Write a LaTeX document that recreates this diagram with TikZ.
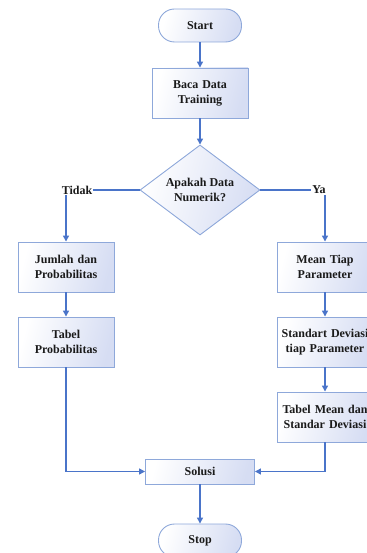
\documentclass[tikz,border=0pt]{standalone}
\usepackage{fontspec}
\setmainfont{Liberation Serif}
\usetikzlibrary{shapes.geometric,arrows.meta}
\definecolor{edgeblue}{HTML}{8EA8DA}
\definecolor{arrowblue}{HTML}{4A74C9}
\definecolor{fillblue}{HTML}{D6DDF3}
\definecolor{txt}{HTML}{1A1A1A}
\tikzset{
  base/.style={draw=edgeblue, line width=0.9pt, left color=white, right color=fillblue, shading angle=75,
    font=\bfseries\fontsize{12}{15}\selectfont, text=txt, align=center, inner sep=0pt},
  procbox/.style={base, minimum width=96pt, minimum height=50pt, text width=94pt},
  termbox/.style={base, rounded corners=16pt, minimum width=83pt, minimum height=33pt},
  decbox/.style={base, diamond, aspect=1.333, minimum width=120pt, minimum height=90pt},
  conn/.style={draw=arrowblue, line width=1.3pt, -{Triangle[length=6pt,width=6pt]}},
  lbl/.style={fill=white, font=\bfseries\fontsize{12}{15}\selectfont, text=txt, inner sep=1pt}
}
\begin{document}
\begin{tikzpicture}[x=1pt,y=-1pt]
\useasboundingbox (0,0) rectangle (366,553);
\node[termbox] (start) at (200,25.5) {Start};
\node[procbox] (baca) at (200,93) {Baca Data\\Training};
\node[decbox] (dec) at (200,190) {Apakah Data\\Numerik?};
\node[procbox] (jumlah) at (66,267) {Jumlah dan\\Probabilitas};
\node[procbox] (tabprob) at (66,342) {Tabel\\Probabilitas};
\node[procbox] (mean) at (325,267) {Mean Tiap\\Parameter};
\node[procbox] (std) at (325,342) {Standart Deviasi\\tiap Parameter};
\node[procbox] (tabmean) at (325,417) {Tabel Mean dan\\Standar Deviasi};
\node[base, minimum width=109pt, minimum height=25pt] (solusi) at (200,471.5) {Solusi};
\node[termbox] (stop) at (200,540.5) {Stop};
\coordinate (cl) at (66,190);
\coordinate (cr) at (325,190);
\coordinate (bl) at (66,471.5);
\coordinate (br) at (325,471.5);
\draw[conn] (start) -- (baca);
\draw[conn] (baca) -- (dec);
\draw[conn] (dec.west) -- (cl) -- (jumlah.north);
\draw[conn] (dec.east) -- (cr) -- (mean.north);
\node[lbl] (tidak) at (77,190) {Tidak};
\node[lbl] (ya) at (319,190) {Ya};
\draw[conn] (jumlah) -- (tabprob);
\draw[conn] (mean) -- (std);
\draw[conn] (std) -- (tabmean);
\draw[conn] (tabprob.south) -- (bl) -- (solusi.west);
\draw[conn] (tabmean.south) -- (br) -- (solusi.east);
\draw[conn] (solusi) -- (stop);
\end{tikzpicture}
\end{document}
